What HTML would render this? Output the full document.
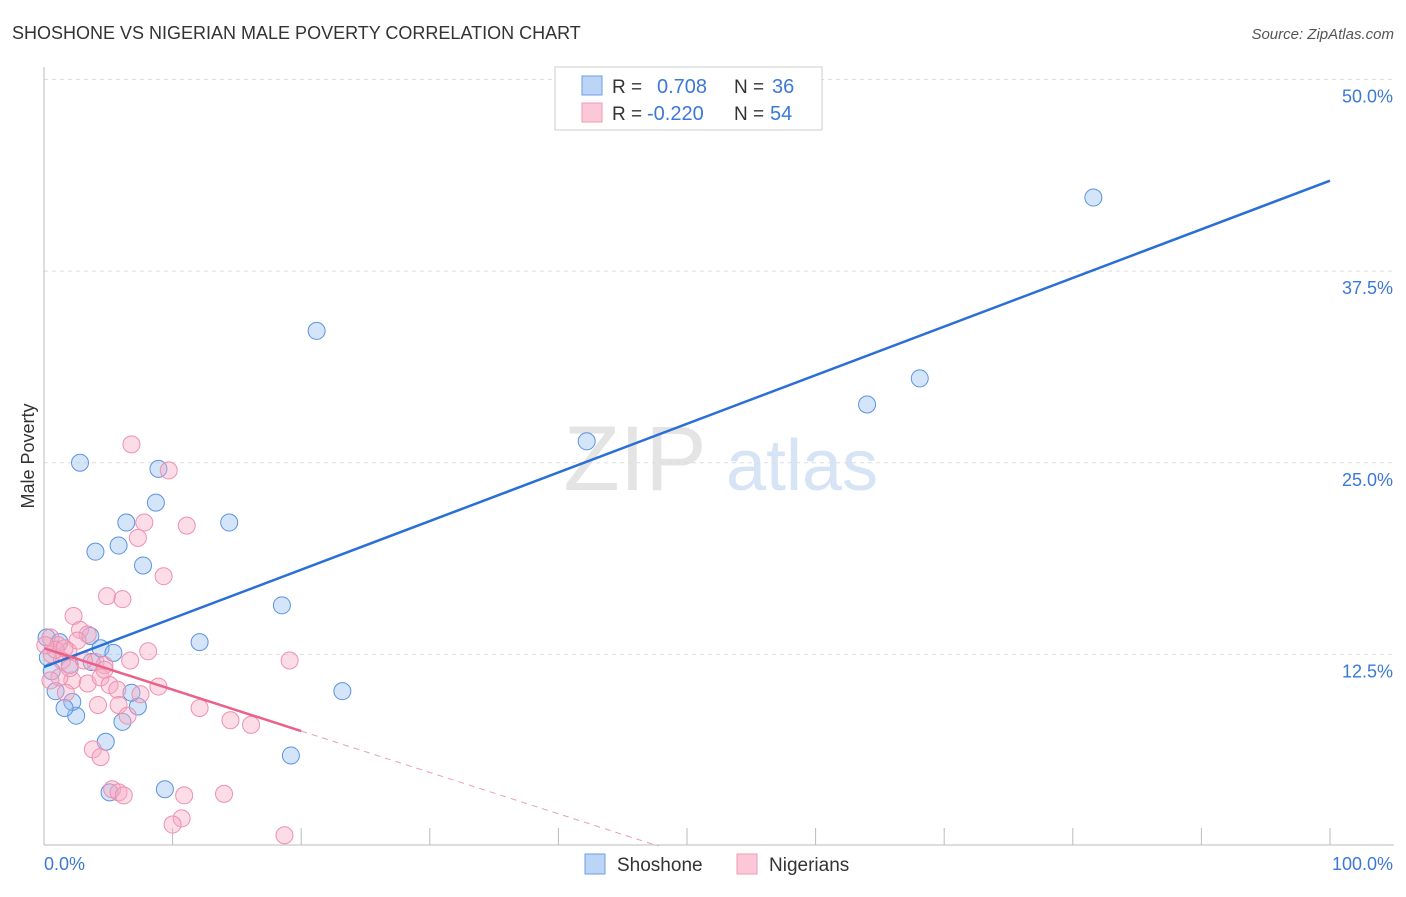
<!DOCTYPE html>
<html><head><meta charset="utf-8"><style>
body{margin:0;background:#fff;font-family:"Liberation Sans",sans-serif;}
svg text{font-family:"Liberation Sans",sans-serif;}
</style></head><body>
<svg id="chart" width="1406" height="892" xmlns="http://www.w3.org/2000/svg">
<text x="12" y="39" font-size="18" fill="#333">SHOSHONE VS NIGERIAN MALE POVERTY CORRELATION CHART</text>
<text x="1394" y="39" font-size="15" fill="#555" text-anchor="end" font-style="italic">Source: ZipAtlas.com</text>
<g>
<text x="635" y="490" font-size="92" fill="#e4e4e4" font-family="Liberation Serif" text-anchor="middle">ZIP</text>
<text x="802" y="490" font-size="72" fill="#d6e4f5" text-anchor="middle">atlas</text>
</g>
<g id="grid"></g>
<g id="axes"></g>
<g id="points"></g>
<g id="lines"></g>
<text transform="translate(34,456) rotate(-90)" font-size="18" fill="#333" text-anchor="middle">Male Poverty</text>
<g>
<rect x="555" y="67" width="267" height="63" fill="#fff" stroke="#ccc"/>
<rect x="582" y="76" width="20" height="19" fill="#bcd4f6" stroke="#6a9ee8"/>
<rect x="582" y="103" width="20" height="19" fill="#fcc8d7" stroke="#ee9ab5"/>
<text x="612" y="93" font-size="19" fill="#333">R =</text>
<text x="657" y="93" font-size="20" fill="#3b78d8">0.708</text>
<text x="734" y="93" font-size="19" fill="#333">N =</text>
<text x="772" y="93" font-size="20" fill="#3b78d8">36</text>
<text x="612" y="120" font-size="19" fill="#333">R =</text>
<text x="647" y="120" font-size="20" fill="#3b78d8">-0.220</text>
<text x="734" y="120" font-size="19" fill="#333">N =</text>
<text x="770" y="120" font-size="20" fill="#3b78d8">54</text>
</g>
<g>
<rect x="585" y="854" width="20" height="20" fill="#bcd4f6" stroke="#6a9ee8"/>
<text x="617" y="871" font-size="19" fill="#333">Shoshone</text>
<rect x="737" y="854" width="20" height="20" fill="#fcc8d7" stroke="#ee9ab5"/>
<text x="769" y="871" font-size="19" fill="#333">Nigerians</text>
</g>
</svg>
<script>
const blueX=[81.6,21.2,68.1,64.0,42.2,2.8,8.9,8.7,6.4,14.4,4.0,5.8,7.7,18.5,12.1,23.2,19.2,9.4,5.1,4.8,6.1,7.3,6.8,2.5,2.2,1.6,0.9,0.6,0.2,1.2,3.6,4.4,5.4,3.7,2.0,0.3];
const blueY=[42.3,33.6,30.5,28.8,26.4,25.0,24.6,22.4,21.1,21.1,19.2,19.6,18.3,15.7,13.3,10.1,5.9,3.7,3.5,6.8,8.1,9.1,10.0,8.5,9.4,9.0,10.1,11.4,13.6,13.3,13.7,12.9,12.6,12.0,11.8,12.3];
const pinkX=[6.8,9.7,7.8,11.1,7.3,9.3,4.9,6.1,2.3,2.8,3.4,0.5,1.1,1.9,0.6,1.4,4.0,4.7,6.7,8.1,19.1,2.2,3.4,4.4,5.1,5.7,1.2,0.5,1.7,8.9,4.2,5.8,6.5,12.1,14.5,16.1,3.8,4.4,5.3,5.8,6.2,10.9,14.0,10.7,10.0,18.7,2.6,0.9,3.1,1.6,0.1,4.7,7.5,2.0];
const pinkY=[26.2,24.5,21.1,20.9,20.1,17.6,16.3,16.1,15.0,14.1,13.8,13.6,13.1,12.7,12.5,12.1,12.0,11.8,12.1,12.7,12.1,10.8,10.6,11.0,10.5,10.2,11.0,10.8,10.0,10.4,9.2,9.2,8.5,9.0,8.2,7.9,6.3,5.8,3.7,3.5,3.3,3.3,3.4,1.8,1.4,0.7,13.4,12.8,12.1,12.9,13.1,11.5,9.9,11.6];
const blueFit=[11.68,43.4];   // value at x=0, x=100
const pinkFit=[12.9,7.5,20]; // value at x=0, value at solid end, solid end x
const yTicks=[12.5,25.0,37.5,50.0];
const xTicks=[0,10,20,30,40,50,60,70,80,90,100];
const NS='http://www.w3.org/2000/svg';
const sx=v=>44+v*12.86;
const sy=v=>846-v*15.33;
function mk(t,a,p){const e=document.createElementNS(NS,t);for(const k in a)e.setAttribute(k,a[k]);p.appendChild(e);return e;}
const grid=document.getElementById('grid'),axes=document.getElementById('axes'),pts=document.getElementById('points'),lines=document.getElementById('lines');
mk('line',{x1:44,y1:67,x2:44,y2:845,stroke:'#bbb'},axes);
mk('line',{x1:44,y1:845,x2:1394,y2:845,stroke:'#bbb'},axes);
yTicks.forEach(v=>{
  const g=mk('line',{x1:44,y1:sy(v),x2:1394,y2:sy(v),stroke:'#ddd','stroke-dasharray':'4,4'},grid);
  
  
  const t=mk('text',{x:1393,y:sy(v)+23,'font-size':18,fill:'#3b78d8','text-anchor':'end'},axes);
  t.textContent=v.toFixed(1)+'%';
  
  
});
xTicks.forEach(v=>{
  if(v===0)return;
  const l=mk('line',{x1:sx(v),y1:828,x2:sx(v),y2:845,stroke:'#bbb'},axes);
  
  
});
const x0=mk('text',{x:44,y:870,'font-size':18,fill:'#3b78d8'},axes);x0.textContent='0.0%';


const x1=mk('text',{x:1393,y:870,'font-size':18,fill:'#3b78d8','text-anchor':'end'},axes);x1.textContent='100.0%';


blueX.forEach((v,i)=>{
  const c=mk('circle',{cx:sx(v),cy:sy(blueY[i]),r:8.5,fill:'rgba(150,190,240,0.4)',stroke:'#5b93e0','stroke-width':1},pts);
  
  
});
pinkX.forEach((v,i)=>{
  const c=mk('circle',{cx:sx(v),cy:sy(pinkY[i]),r:8.5,fill:'rgba(248,170,195,0.4)',stroke:'#ee90ae','stroke-width':1},pts);
  
  
});
const bl=mk('line',{x1:sx(0),y1:sy(blueFit[0]),x2:sx(100),y2:sy(blueFit[1]),stroke:'#2a6fd6','stroke-width':2.5},lines);


const slope=(pinkFit[1]-pinkFit[0])/pinkFit[2];
const pl=mk('line',{x1:sx(0),y1:sy(pinkFit[0]),x2:sx(pinkFit[2]),y2:sy(pinkFit[1]),stroke:'#e8628a','stroke-width':2.5},lines);


const xEnd=-pinkFit[0]/slope;
const pd=mk('line',{x1:sx(pinkFit[2]),y1:sy(pinkFit[1]),x2:sx(xEnd),y2:sy(0),stroke:'#e8a0b5','stroke-width':1,'stroke-dasharray':'6,5'},lines);


</script>
</body></html>
